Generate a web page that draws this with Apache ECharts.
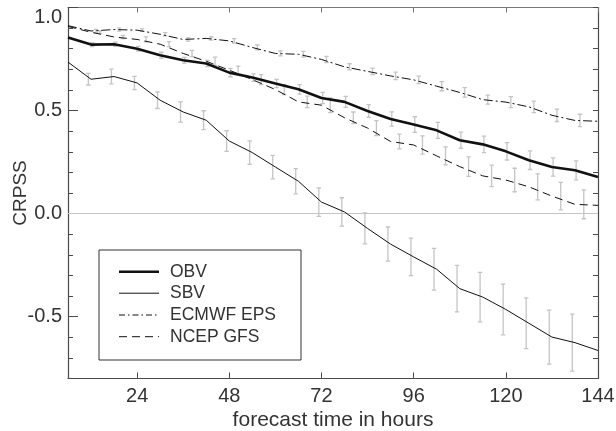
<!DOCTYPE html>
<html>
<head>
<meta charset="utf-8">
<script src="https://cdn.jsdelivr.net/npm/echarts@6/dist/echarts.min.js"></script>
<style>
html,body{margin:0;padding:0;background:#fff;}
#chart{width:616px;height:431px;}
</style>
</head>
<body>
<div id="chart"></div>
<script>
// ---- data ----
const hours = [6,12,18,24,30,36,42,48,54,60,66,72,78,84,90,96,102,108,114,120,126,132,138,144];
const obv   = [0.855,0.820,0.822,0.800,0.768,0.744,0.728,0.684,0.660,0.631,0.603,0.561,0.542,0.498,0.459,0.432,0.404,0.356,0.336,0.302,0.259,0.226,0.210,0.178];
const sbv   = [0.735,0.652,0.665,0.634,0.550,0.493,0.453,0.352,0.296,0.226,0.157,0.056,0.008,-0.072,-0.148,-0.210,-0.270,-0.364,-0.405,-0.465,-0.532,-0.599,-0.626,-0.664];
const ecmwf = [0.912,0.886,0.893,0.890,0.870,0.845,0.850,0.838,0.806,0.777,0.773,0.748,0.712,0.690,0.668,0.649,0.618,0.588,0.553,0.541,0.518,0.477,0.452,0.448];
const ncep  = [0.908,0.880,0.857,0.845,0.822,0.777,0.739,0.696,0.650,0.602,0.542,0.526,0.465,0.415,0.350,0.333,0.280,0.228,0.183,0.163,0.130,0.085,0.045,0.040];

// error bar half-widths at 12..138 h
const errHours = [12,18,24,30,36,42,48,54,60,66,72,78,84,90,96,102,108,114,120,126,132,138];
const obvErr   = [0.010,0.010,0.011,0.015,0.014,0.015,0.020,0.018,0.020,0.023,0.027,0.027,0.031,0.035,0.038,0.039,0.039,0.040,0.042,0.045,0.044,0.046];
const sbvErr   = [0.028,0.036,0.032,0.040,0.049,0.046,0.050,0.057,0.057,0.061,0.069,0.069,0.075,0.083,0.091,0.101,0.113,0.120,0.123,0.123,0.131,0.138];
const ecmwfErr = [0.008,0.008,0.006,0.008,0.008,0.008,0.011,0.012,0.012,0.014,0.015,0.015,0.016,0.018,0.018,0.022,0.023,0.022,0.027,0.028,0.030,0.030];
const ncepErr  = [0.006,0.008,0.012,0.012,0.015,0.020,0.020,0.024,0.024,0.028,0.036,0.028,0.036,0.036,0.044,0.044,0.047,0.052,0.057,0.063,0.067,0.070];
// horizontal stagger of the error bars (hours)
const errShift = [0.3, -0.7, 1.3, 2.3]; // OBV, SBV, ECMWF, NCEP

const names = ['OBV','SBV','ECMWF EPS','NCEP GFS'];
const xTicks = [24,48,72,96,120,144];
const yLabels = [-0.5,0,0.5,1.0];

// ---- build ----
function pairs(vals){ return hours.map((h,i)=>[h, vals[i]]); }
function errData(vals, errs, shift){
  return errHours.map((h,i)=>{
    const c = vals[hours.indexOf(h)];
    return [h + shift, c - errs[i], c + errs[i]];
  });
}
const FONT = '"Liberation Sans", Arial, Helvetica, sans-serif';
const TXT = '#333';
const AX = '#4a4a4a';
const lineColor = '#111';

function renderErr(params, api){
  const x = api.value(0), lo = api.value(1), hi = api.value(2);
  const a = api.coord([x, lo]), b = api.coord([x, hi]);
  const w = 2.2;
  const st = {stroke:'#c4c4c4', lineWidth:1.3};
  return {type:'group', children:[
    {type:'line', shape:{x1:a[0],y1:a[1],x2:b[0],y2:b[1]}, style:st},
    {type:'line', shape:{x1:a[0]-w,y1:a[1],x2:a[0]+w,y2:a[1]}, style:st},
    {type:'line', shape:{x1:b[0]-w,y1:b[1],x2:b[0]+w,y2:b[1]}, style:st}
  ]};
}
function errSeries(vals, errs, shift){
  return {type:'custom', renderItem:renderErr, data:errData(vals, errs, shift),
    encode:{x:0, y:[1,2]}, z:1, silent:true, clip:true};
}

// legend drawn as graphic (box + line samples + text)
const legendStyles = [
  {width:2.6, dash:null},
  {width:1, dash:null},
  {width:1, dash:[6,3,1.5,3]},
  {width:1, dash:[8,5]}
];
const legendBox = {x:99, y:250, w:202, h:110};
const legendRowY = [271.7, 293.2, 315, 336.7];
const legendGraphics = [{type:'rect', shape:{x:legendBox.x, y:legendBox.y, width:legendBox.w, height:legendBox.h},
  style:{fill:'#fff', stroke:'#333', lineWidth:1}, z:10}];
names.forEach((n,i)=>{
  const y = legendRowY[i];
  legendGraphics.push({type:'line', shape:{x1:119, y1:y, x2:159, y2:y},
    style:{stroke:lineColor, lineWidth:legendStyles[i].width, lineDash:legendStyles[i].dash}, z:11});
  legendGraphics.push({type:'text', x:170, y:y,
    style:{text:n, font:'17.5px ' + FONT, fill:TXT, textVerticalAlign:'middle', verticalAlign:'middle'}, z:11});
});

const chart = echarts.init(document.getElementById('chart'), null, {renderer:'canvas'});
chart.setOption({
  animation:false,
  backgroundColor:'#fff',
  textStyle:{fontFamily:FONT},
  grid:{left:68, right:18, top:7.5, bottom:52.5, containLabel:false, outerBoundsMode:'none'},
  graphic:legendGraphics,
  xAxis:[
    {type:'value', min:6, max:144, position:'bottom',
     name:'forecast time in hours', nameLocation:'middle', nameGap:31, nameMoveOverlap:false,
     nameTextStyle:{fontFamily:FONT, fontSize:21, color:TXT},
     axisLine:{show:true, onZero:false, lineStyle:{color:AX, width:1.2}},
     axisTick:{show:true, inside:true, length:6, customValues:xTicks, lineStyle:{color:AX}},
     axisLabel:{show:true, customValues:xTicks, margin:8, fontFamily:FONT, fontSize:20, color:TXT},
     splitLine:{show:false}},
    {type:'value', min:6, max:144, position:'top',
     axisLine:{show:true, onZero:false, lineStyle:{color:'#777', width:1.2}},
     axisTick:{show:true, inside:true, length:5, customValues:xTicks, lineStyle:{color:'#777'}},
     axisLabel:{show:false}, splitLine:{show:false}}
  ],
  yAxis:[
    {type:'value', min:-0.8, max:1.0, interval:0.1, position:'left',
     name:'CRPSS', nameLocation:'middle', nameGap:38, nameRotate:90, nameMoveOverlap:false,
     nameTextStyle:{fontFamily:FONT, fontSize:19, color:TXT},
     axisLine:{show:true, onZero:false, lineStyle:{color:AX, width:1.2}},
     axisTick:{show:true, inside:true, length:5, lineStyle:{color:AX}},
     axisLabel:{show:true, customValues:yLabels, margin:6, fontFamily:FONT, fontSize:20, color:TXT,
       formatter:function(v){ return Math.abs(v-1)<1e-9 ? '{t|1.0}' : v.toFixed(1); },
       rich:{t:{fontFamily:FONT, fontSize:20, color:TXT, padding:[20,0,0,0]}}},
     splitLine:{show:false}},
    {type:'value', min:-0.8, max:1.0, interval:0.1, position:'right',
     axisLine:{show:true, onZero:false, lineStyle:{color:AX, width:1.2}},
     axisTick:{show:true, inside:true, length:5, lineStyle:{color:AX}},
     axisLabel:{show:false}, splitLine:{show:false}},
    {type:'value', min:-0.8, max:1.0, position:'left',
     axisLine:{show:false},
     axisTick:{show:true, inside:true, length:10, customValues:yLabels, lineStyle:{color:AX}},
     axisLabel:{show:false}, splitLine:{show:false}}
  ],
  series:[
    errSeries(obv, obvErr, errShift[0]),
    errSeries(sbv, sbvErr, errShift[1]),
    errSeries(ecmwf, ecmwfErr, errShift[2]),
    errSeries(ncep, ncepErr, errShift[3]),
    {name:'OBV', type:'line', data:pairs(obv), symbol:'none', z:3,
     lineStyle:{color:lineColor, width:2.6}, itemStyle:{color:lineColor}},
    {name:'SBV', type:'line', data:pairs(sbv), symbol:'none', z:3,
     lineStyle:{color:lineColor, width:1}, itemStyle:{color:lineColor},
     markLine:{silent:true, symbol:['none','none'], label:{show:false},
       lineStyle:{color:'#c4c4c4', width:1, type:'solid'}, data:[{yAxis:0}], z:1}},
    {name:'ECMWF EPS', type:'line', data:pairs(ecmwf), symbol:'none', z:3,
     lineStyle:{color:lineColor, width:1, type:[9,3,2,3]}, itemStyle:{color:lineColor}},
    {name:'NCEP GFS', type:'line', data:pairs(ncep), symbol:'none', z:3,
     lineStyle:{color:lineColor, width:1, type:[8,5]}, itemStyle:{color:lineColor}}
  ]
});
</script>
</body>
</html>
